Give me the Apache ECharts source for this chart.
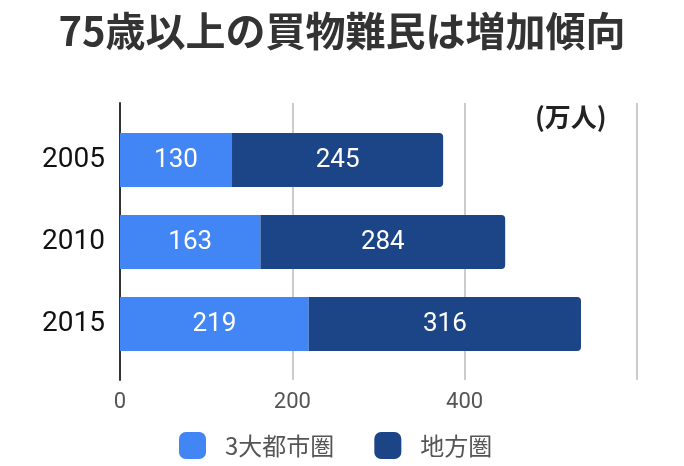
<!DOCTYPE html>
<html><head><meta charset="utf-8">
<script src="https://cdn.jsdelivr.net/npm/echarts@6/dist/echarts.min.js"></script>
<style>html,body{margin:0;padding:0;background:#fff}#c{width:684px;height:466px}</style>
</head><body><div id="c"></div>
<script>
const titleText = '75歳以上の買物難民は増加傾向';
const unitText = '(万人)';
const categories = ['2005', '2010', '2015'];
const seriesNames = ['3大都市圏', '地方圏'];
const metro = [130, 163, 219];
const regional = [245, 284, 316];
const xTicks = [0, 200, 400, 600];

const chart = echarts.init(document.getElementById('c'));
const font = '"Noto Sans CJK JP", "Noto Sans", Roboto, sans-serif';
chart.setOption({
  animation: false,
  backgroundColor: '#fff',
  title: {
    text: titleText, left: 'center', top: 6,
    textStyle: { fontSize: 40, fontWeight: 'bold', color: '#333', fontFamily: font }
  },
  graphic: [{
    type: 'text', left: 535, top: 104,
    style: { text: unitText, fontSize: 26, fontWeight: 'bold', fill: '#222', fontFamily: font }
  }],
  legend: {
    top: 427, left: 174, itemWidth: 27, itemHeight: 27, itemGap: 40,
    icon: 'roundRect',
    textStyle: { fontSize: 24, color: '#555', fontFamily: font, padding: [0, 0, 0, 14] },
    data: seriesNames
  },
  grid: [
    { left: 120, right: 47, top: 103, bottom: 86 },
    { left: 120, right: 47, top: 119, height: 246 }
  ],
  xAxis: [
    { gridIndex: 0, type: 'value', min: xTicks[0], max: xTicks[xTicks.length - 1], interval: 200,
      axisLine: { show: false }, axisTick: { show: false },
      splitLine: { lineStyle: { color: '#ccc', width: 2 } },
      axisLabel: { fontSize: 22, color: '#555', margin: 11, showMaxLabel: false, fontFamily: 'Roboto, sans-serif' } },
    { gridIndex: 1, type: 'value', min: 0, max: 600, show: false, splitLine: { show: false } }
  ],
  yAxis: [
    { gridIndex: 0, type: 'category', data: [''], axisLabel: { show: false },
      axisTick: { show: false }, axisLine: { lineStyle: { color: '#333', width: 2 } } },
    { gridIndex: 1, type: 'category', data: categories, inverse: true,
      axisLine: { show: false }, axisTick: { show: false },
      axisLabel: { fontSize: 28, color: '#111', margin: 15, fontFamily: 'Roboto, sans-serif' } }
  ],
  series: [
    { name: seriesNames[0], type: 'bar', stack: 's', xAxisIndex: 1, yAxisIndex: 1,
      data: metro, barWidth: 54, itemStyle: { color: '#4285F4' },
      label: { show: true, position: 'inside', color: '#fff', fontSize: 26, fontFamily: 'Roboto, sans-serif' } },
    { name: seriesNames[1], type: 'bar', stack: 's', xAxisIndex: 1, yAxisIndex: 1,
      data: regional, barWidth: 54, itemStyle: { color: '#1C4587', borderRadius: [0, 4, 4, 0] },
      label: { show: true, position: 'inside', color: '#fff', fontSize: 26, fontFamily: 'Roboto, sans-serif' } }
  ]
});
</script></body></html>
